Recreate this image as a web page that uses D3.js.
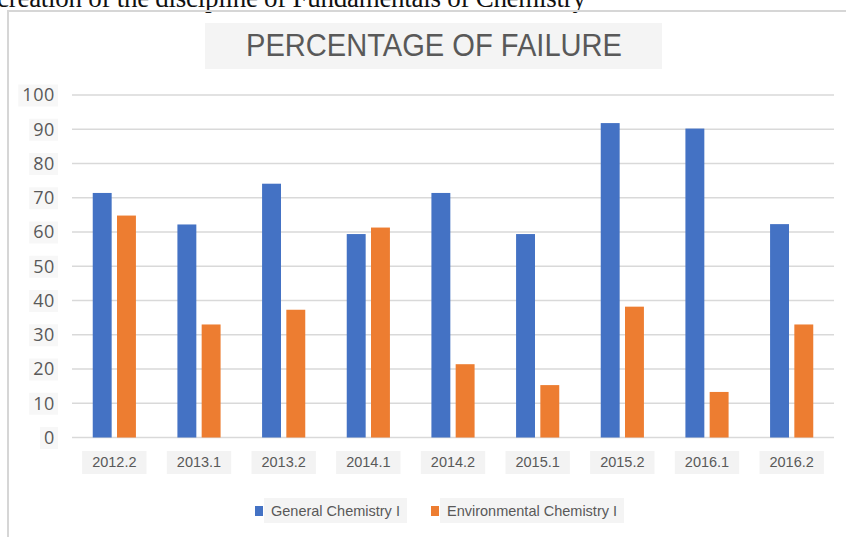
<!DOCTYPE html>
<html>
<head>
<meta charset="utf-8">
<script src="https://cdn.jsdelivr.net/npm/d3@7"></script>
<style>
  body { margin: 0; background: #fff; }
  svg { display: block; }
</style>
</head>
<body>
<div id="chart"></div>
<script>
// Data
const semesters = ['2012.2', '2013.1', '2013.2', '2014.1', '2014.2', '2015.1', '2015.2', '2016.1', '2016.2'];
const generalChem = [71.4, 62.2, 74.1, 59.4, 71.4, 59.4, 91.8, 90.2, 62.3];
const environmentalChem = [64.8, 33.0, 37.3, 61.3, 21.4, 15.3, 38.2, 13.3, 33.0];
const seriesNames = ['General Chemistry I', 'Environmental Chemistry I'];
const yTicks = [0, 10, 20, 30, 40, 50, 60, 70, 80, 90, 100];

(function main(){
  const width = 846, height = 537;
  const colors = { 'General Chemistry I': '#4472c4', 'Environmental Chemistry I': '#ed7d31' };
  const textCol = '#595959';

  const svg = d3.select('#chart').append('svg')
    .attr('width', width).attr('height', height);

  // cropped caption line from the page above the chart
  svg.append('text')
    .attr('x', -3).attr('y', 7)
    .attr('textLength', 589)
    .style('font-family', '"Liberation Serif", "Times New Roman", serif')
    .style('font-size', '27px')
    .style('fill', '#111')
    .text('creation of the discipline of Fundamentals of Chemistry');

  // chart frame (left + top visible)
  svg.append('path')
    .attr('d', `M8,${height + 2} L8,11 L${width + 2},11`)
    .attr('fill', 'none')
    .attr('stroke', '#d6d6d6')
    .attr('stroke-width', 2);

  // title with its faint box
  svg.append('rect')
    .attr('x', 205).attr('y', 23).attr('width', 457).attr('height', 46)
    .attr('fill', '#f4f4f4');
  svg.append('text')
    .attr('x', 434).attr('y', 56)
    .attr('text-anchor', 'middle')
    .attr('textLength', 376)
    .attr('lengthAdjust', 'spacingAndGlyphs')
    .style('font-family', '"Liberation Sans", Arial, sans-serif')
    .style('font-size', '31px')
    .style('fill', textCol)
    .text('PERCENTAGE OF FAILURE');

  const plotL = 72, plotR = 834, plotT = 95, plotB = 437.5;

  const x = d3.scaleBand().domain(semesters).range([plotL, plotR]).paddingInner(0.49).paddingOuter(0.245);
  const xSub = d3.scaleBand().domain(seriesNames).range([0, x.bandwidth()]).paddingInner(0.22);
  const y = d3.scaleLinear().domain([0, 100]).range([plotB, plotT]);

  // grid
  svg.append('g')
    .selectAll('line')
    .data(yTicks)
    .join('line')
    .attr('x1', plotL).attr('x2', plotR)
    .attr('y1', d => y(d)).attr('y2', d => y(d))
    .attr('stroke', '#d9d9d9')
    .attr('stroke-width', 1.6);

  // y axis labels
  const yAxis = svg.append('g')
    .attr('transform', `translate(55,0)`)
    .call(d3.axisLeft(y).tickValues(yTicks).tickSize(0).tickPadding(0));
  yAxis.select('.domain').remove();
  yAxis.selectAll('text')
    .style('font-family', '"Open Sans", "Noto Sans", sans-serif')
    .style('font-size', '18px')
    .style('letter-spacing', '0.6px')
    .style('fill', textCol);
  yAxis.selectAll('.tick').each(function(){
    const t = d3.select(this).select('text');
    const w = t.node().getComputedTextLength();
    d3.select(this).insert('rect', 'text')
      .attr('x', -w - 4).attr('y', -11)
      .attr('width', w + 7).attr('height', 22)
      .attr('fill', '#f7f7f7');
  });

  // bars
  const rows = semesters.map((s, i) => ({ s, vals: [generalChem[i], environmentalChem[i]] }));
  const groups = svg.append('g').selectAll('g')
    .data(rows)
    .join('g')
    .attr('transform', d => `translate(${x(d.s)},0)`);
  groups.selectAll('rect')
    .data(d => d.vals.map((v, k) => ({ key: seriesNames[k], v })))
    .join('rect')
    .attr('x', d => xSub(d.key))
    .attr('width', xSub.bandwidth())
    .attr('y', d => y(d.v))
    .attr('height', d => y(0) - y(d.v))
    .attr('fill', d => colors[d.key]);

  // x labels with faint boxes
  const xl = svg.append('g').selectAll('g')
    .data(semesters)
    .join('g')
    .attr('transform', d => `translate(${x(d) + x.bandwidth() / 2},462)`);
  xl.append('rect').attr('fill', '#f3f3f3');
  xl.append('text')
    .attr('text-anchor', 'middle')
    .attr('dy', '0.35em')
    .style('font-family', '"Liberation Sans", Arial, sans-serif')
    .style('font-size', '14.5px')
    .style('fill', textCol)
    .text(d => d);
  xl.each(function(){
    const g = d3.select(this);
    const w = g.select('text').node().getComputedTextLength();
    g.select('rect')
      .attr('x', -w / 2 - 10).attr('y', -11)
      .attr('width', w + 20).attr('height', 23);
  });

  // legend
  const legendX = [255, 431];
  const legend = svg.append('g').selectAll('g')
    .data(seriesNames)
    .join('g')
    .attr('transform', (d, i) => `translate(${legendX[i]},511)`);
  legend.append('rect').attr('class', 'bg').attr('fill', '#f4f4f4');
  legend.append('rect')
    .attr('x', 0).attr('y', -5).attr('width', 8).attr('height', 10)
    .attr('fill', d => colors[d]);
  legend.append('text')
    .attr('x', 16)
    .attr('dy', '0.35em')
    .style('font-family', '"Liberation Sans", Arial, sans-serif')
    .style('font-size', '14.5px')
    .style('fill', textCol)
    .text(d => d);
  legend.each(function(){
    const g = d3.select(this);
    const w = g.select('text').node().getComputedTextLength();
    g.select('rect.bg')
      .attr('x', 9).attr('y', -13)
      .attr('width', w + 14).attr('height', 25);
  });
})();
</script>
</body>
</html>
